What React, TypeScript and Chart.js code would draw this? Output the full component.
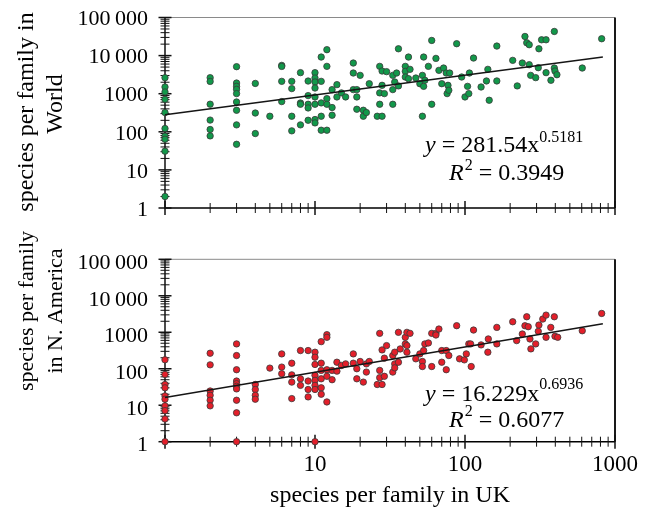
import React, { useEffect, useRef } from 'react';
import { Chart, registerables } from 'chart.js';

Chart.register(...registerables);

const FONT = "'Liberation Serif', 'Times New Roman', serif";

// ---- Data: species per family in UK (x) vs World (y) ----
const worldX = [
  1, 1, 1, 1, 1, 1, 1, 1, 1, 1,
  2, 2, 2, 2, 2, 2,
  3, 3, 3, 3, 3, 3, 3, 3, 3,
  4, 4, 4, 5,
  6, 6, 6, 6,
  7, 7, 7, 7,
  8, 8, 8, 8,
  9, 9, 9, 9, 9,
  10, 10, 10, 10, 10, 10, 10, 10,
  11, 11, 11, 11, 11,
  12, 12, 12, 12, 12,
  13, 13, 13, 14, 14, 15, 16,
  18, 18, 18, 19, 19, 19, 20, 21, 21, 22, 23, 26,
  27, 27, 27, 28, 28, 28, 29, 30,
  33, 33, 33, 34, 35, 36, 36,
  40, 40, 40, 42, 42, 43, 47, 50, 52, 52, 53, 53, 54, 57, 60, 60,
  64, 67, 70, 72, 75, 76, 77, 78, 79, 88, 95, 100, 104, 106, 107,
  114, 128, 139, 142, 145, 163, 163, 208, 223, 241, 251, 258, 268, 268,
  274, 296, 308, 311, 324, 347, 347, 374, 394, 394, 398, 410, 605, 815,
];
const worldY = [
  2630, 1500, 1110, 713, 320, 122, 77, 64, 31, 2,
  2630, 2100, 530, 203, 115, 78,
  5120, 1905, 1563, 1303, 1006, 607, 367, 152, 47,
  1860, 311, 90, 256,
  5540, 5200, 2110, 621,
  2110, 1360, 256, 106,
  3570, 571, 528, 152,
  2150, 892, 528, 423, 201,
  3570, 2580, 2030, 1410, 820, 528, 210, 171,
  9160, 2110, 573, 256, 110,
  14300, 5220, 743, 528, 110,
  1280, 433, 272, 1730, 822, 1050, 822,
  6380, 3490, 1280, 1280, 822, 391, 3030, 368, 256, 320, 1830, 256,
  5220, 1050, 528, 3940, 1660, 256, 1005, 3790,
  3030, 1280, 528, 2030, 3490, 15100, 1600,
  5220, 3860, 2740, 9160, 2480, 4360, 2580, 1830, 3030, 256, 9160, 1560, 2250, 5220, 25000, 528,
  8450, 4100, 1830, 4720, 3490, 1005, 1660, 1230, 3490, 20500, 2740, 822, 1560, 1005, 3490,
  8630, 1500, 2160, 4360, 673, 17800, 2160, 7500, 1600, 6380, 31800, 21700, 19300, 5770,
  3030, 2640, 4820, 15100, 26000, 26000, 3570, 2250, 43000, 4720, 3940, 3150, 4720, 27700,
];

// ---- Data: species per family in UK (x) vs N. America (y) ----
const americaX = [
  1, 1, 1, 1, 1, 1, 1, 1, 1, 1,
  2, 2, 2, 2, 2, 2,
  3, 3, 3, 3, 3, 3, 3, 3, 3, 3,
  4, 4, 4, 4, 5,
  6, 6, 6,
  7, 7, 7, 7,
  8, 8, 8,
  9, 9, 9, 9,
  10, 10, 10, 10, 10, 10, 10, 10,
  11, 11, 11, 11, 11, 11,
  12, 12, 12, 12, 12,
  13, 13, 14, 14, 15, 16, 18, 18, 19, 19, 20, 21, 22, 22, 23, 26,
  27, 27, 27, 28, 28, 29, 29, 30, 33, 33, 34, 34, 34, 36, 36, 37,
  40, 40, 41, 41, 41, 43, 47, 50, 52, 52, 53, 54, 57, 60, 60, 64, 64, 67,
  70, 70, 75, 75, 78, 88, 92, 99, 102, 106, 109, 110, 114, 128, 142, 143,
  163, 163, 208, 221, 241, 251, 258, 264, 271, 275, 296, 308, 311, 330,
  347, 347, 373, 394, 398, 415, 605, 815,
];
const americaY = [
  176, 70, 37, 30, 18, 14.6, 9.6, 7.1, 4.2, 1,
  266, 128, 24.5, 18.7, 13.7, 9.6,
  479, 230, 94, 46, 39, 33, 28, 13.7, 6.2, 1,
  37, 27, 18.7, 14.6, 104,
  255, 111, 73,
  142, 68, 43, 15.2,
  315, 53, 35,
  315, 46, 27, 16.9,
  284, 207, 131, 66, 48, 35, 27, 1,
  553, 142, 90, 53, 30, 20,
  859, 726, 94, 62, 12.3,
  90, 50, 151, 86, 123, 136, 255, 142, 100, 53, 158, 43, 136, 81, 158, 37,
  933, 90, 57, 328, 37, 195, 62, 431, 230, 81, 284, 136, 106, 995, 151, 349,
  726, 479, 995, 431, 284, 933, 187, 255, 158, 115, 315, 479, 509, 933, 115, 933, 841, 1224,
  315, 151, 315, 94, 230, 1514, 187, 175, 255, 479, 479, 115, 1150, 450, 284, 655,
  1360, 479, 1940, 590, 896, 1510, 2660, 1420, 655, 350, 479, 1060, 1575, 2300,
  2950, 727, 1360, 2660, 774, 727, 1100, 3280,
];

// ---- Power-law trend lines (end points) ----
const worldTrendX = [1, 830];
const worldTrendY = [281.54, 9150];
const americaTrendX = [1, 830];
const americaTrendY = [16.229, 1717];

// ---- Ticks ----
const yTickValues = [1, 10, 100, 1000, 10000, 100000];
const yTickLabels = ['1', '10', '100', '1000', '10\u2009000', '100\u2009000'];
const xTickValues = [1, 10, 100, 1000];
const xTickLabels = ['', '10', '100', '1000'];

type PanelCfg = {
  top: number;
  height: number;
  padTop: number;
  axisH: number;
  labelOffset: number;
  xs: number[];
  ys: number[];
  tx: number[];
  ty: number[];
  fill: string;
  showXLabels: boolean;
  titleSize: number;
  titleLines: string[];
  titleBaselines: number[];
  titleCenters: number[];
  eqBase: number;
  eqSup: number;
  coef: string;
  expo: string;
  rBase: number;
  rSup: number;
  r2: string;
  xTitle?: { text: string; x: number; base: number };
};

function makeDecor(cfg: PanelCfg) {
  return {
    id: 'decor',
    beforeDatasetsDraw(chart: any) {
      const { ctx, chartArea: a, scales } = chart;
      const xs = scales.x;
      const ys = scales.y;
      ctx.save();
      // frame top (thin) and right (dark)
      ctx.strokeStyle = '#8a8a8a';
      ctx.lineWidth = 1;
      ctx.beginPath();
      ctx.moveTo(a.left, a.top);
      ctx.lineTo(a.right, a.top);
      ctx.stroke();
      ctx.strokeStyle = '#1a1a1a';
      ctx.lineWidth = 2;
      ctx.beginPath();
      ctx.moveTo(a.right, a.top);
      ctx.lineTo(a.right, a.bottom);
      ctx.stroke();
      // axes
      ctx.strokeStyle = '#000';
      ctx.lineWidth = 1.4;
      ctx.beginPath();
      ctx.moveTo(a.left, a.top);
      ctx.lineTo(a.left, a.bottom);
      ctx.lineTo(a.right, a.bottom);
      ctx.stroke();
      // tick marks
      ctx.strokeStyle = '#111';
      for (let e = 0; e <= 5; e++) {
        for (let m = 1; m <= 9; m++) {
          const v = m * Math.pow(10, e);
          const major = m === 1;
          if (v >= ys.min && v <= ys.max) {
            const p = ys.getPixelForValue(v);
            ctx.lineWidth = major ? 1.5 : 1;
            const l = major ? 6.5 : 4.5;
            ctx.beginPath();
            ctx.moveTo(a.left - l, p);
            ctx.lineTo(a.left + l, p);
            ctx.stroke();
          }
          if (v >= xs.min && v <= xs.max) {
            const p = xs.getPixelForValue(v);
            ctx.lineWidth = major ? 1.5 : 1;
            const l = major ? 7 : 5;
            ctx.beginPath();
            ctx.moveTo(p, a.bottom - l);
            ctx.lineTo(p, a.bottom + l);
            ctx.stroke();
          }
        }
      }
      ctx.restore();
    },
    afterDraw(chart: any) {
      const { ctx } = chart;
      ctx.save();
      ctx.fillStyle = '#000';
      // y-axis title
      ctx.font = `${cfg.titleSize}px ${FONT}`;
      ctx.textAlign = 'center';
      ctx.textBaseline = 'alphabetic';
      cfg.titleLines.forEach((line, i) => {
        ctx.save();
        ctx.translate(cfg.titleBaselines[i], cfg.titleCenters[i]);
        ctx.rotate(-Math.PI / 2);
        ctx.fillText(line, 0, 0);
        ctx.restore();
      });
      // equation
      ctx.textAlign = 'left';
      let x = 425;
      ctx.font = `italic 24px ${FONT}`;
      ctx.fillText('y', x, cfg.eqBase);
      x += ctx.measureText('y').width;
      ctx.font = `24px ${FONT}`;
      const mid = ` = ${cfg.coef}x`;
      ctx.fillText(mid, x, cfg.eqBase);
      x += ctx.measureText(mid).width;
      ctx.font = `16px ${FONT}`;
      ctx.fillText(cfg.expo, x, cfg.eqSup);
      // R^2
      x = 449;
      ctx.font = `italic 24px ${FONT}`;
      ctx.fillText('R', x, cfg.rBase);
      x += ctx.measureText('R').width + 1;
      ctx.font = `16px ${FONT}`;
      ctx.fillText('2', x, cfg.rSup);
      x += ctx.measureText('2').width;
      ctx.font = `24px ${FONT}`;
      ctx.fillText(` = ${cfg.r2}`, x, cfg.rBase);
      // x-axis title
      if (cfg.xTitle) {
        ctx.textAlign = 'center';
        ctx.fillText(cfg.xTitle.text, cfg.xTitle.x, cfg.xTitle.base);
      }
      ctx.restore();
    },
  };
}

function Panel({ cfg }: { cfg: PanelCfg }) {
  const ref = useRef<HTMLCanvasElement>(null);
  useEffect(() => {
    if (!ref.current) return;
    const chart = new Chart(ref.current, {
      type: 'scatter',
      data: {
        datasets: [
          {
            data: cfg.tx.map((x, i) => ({ x, y: cfg.ty[i] })),
            showLine: true,
            borderColor: '#151515',
            borderWidth: 1.5,
            pointRadius: 0,
            pointHoverRadius: 0,
            clip: false,
            order: 0,
          } as any,
          {
            data: cfg.xs.map((x, i) => ({ x, y: cfg.ys[i] })),
            showLine: false,
            backgroundColor: cfg.fill,
            borderColor: '#3a3a3a',
            borderWidth: 0.8,
            pointRadius: 3.2,
            pointHoverRadius: 3.2,
            clip: false,
            order: 1,
          } as any,
        ],
      },
      options: {
        animation: false,
        responsive: false,
        maintainAspectRatio: false,
        events: [],
        layout: { padding: { left: 0, right: 38, top: cfg.padTop, bottom: 0 } },
        plugins: { legend: { display: false }, tooltip: { enabled: false } },
        scales: {
          x: {
            type: 'logarithmic',
            position: 'bottom',
            min: 1,
            max: 1000,
            grid: { display: false, drawTicks: false },
            border: { display: false },
            ticks: {
              display: cfg.showXLabels,
              autoSkip: false,
              maxRotation: 0,
              padding: 9,
              color: '#000',
              font: { family: FONT, size: 23 },
              callback: (_v: any, i: number) => xTickLabels[i],
            },
            afterBuildTicks: (s: any) => {
              s.ticks = xTickValues.map((v) => ({ value: v }));
            },
            afterFit: (s: any) => {
              s.height = cfg.axisH;
              s.paddingLeft = 0;
              s.paddingRight = 0;
              s.paddingTop = 0;
              s.paddingBottom = 0;
            },
          },
          y: {
            type: 'logarithmic',
            position: 'left',
            min: 1,
            max: 100000,
            grid: { display: false, drawTicks: false },
            border: { display: false },
            ticks: {
              autoSkip: false,
              padding: 17,
              labelOffset: cfg.labelOffset,
              color: '#000',
              font: { family: FONT, size: 22 },
              callback: (_v: any, i: number) => yTickLabels[i],
            },
            afterBuildTicks: (s: any) => {
              s.ticks = yTickValues.map((v) => ({ value: v }));
            },
            afterFit: (s: any) => {
              s.width = 165;
              s.paddingLeft = 0;
              s.paddingRight = 0;
              s.paddingTop = 0;
              s.paddingBottom = 0;
            },
          },
        } as any,
      },
      plugins: [makeDecor(cfg)],
    });
    return () => chart.destroy();
  }, []);
  return (
    <canvas
      ref={ref}
      width={653}
      height={cfg.height}
      style={{ position: 'absolute', left: 0, top: cfg.top, width: 653, height: cfg.height }}
    />
  );
}

const worldCfg: PanelCfg = {
  top: 0,
  height: 224,
  padTop: 17.5,
  axisH: 16,
  labelOffset: 2,
  xs: worldX,
  ys: worldY,
  tx: worldTrendX,
  ty: worldTrendY,
  fill: '#12984a',
  showXLabels: false,
  titleSize: 24,
  titleLines: ['species per family in', 'World'],
  titleBaselines: [33, 62],
  titleCenters: [112, 104],
  eqBase: 151.7,
  eqSup: 141.7,
  coef: '281.54',
  expo: '0.5181',
  rBase: 180,
  rSup: 170,
  r2: '0.3949',
};

const americaCfg: PanelCfg = {
  top: 224,
  height: 284,
  padTop: 35.3,
  axisH: 66.3,
  labelOffset: 4,
  xs: americaX,
  ys: americaY,
  tx: americaTrendX,
  ty: americaTrendY,
  fill: '#e31f2a',
  showXLabels: true,
  titleSize: 22,
  titleLines: ['species per family', 'in N. America'],
  titleBaselines: [33, 62],
  titleCenters: [87, 87],
  eqBase: 176.7,
  eqSup: 165.3,
  coef: '16.229',
  expo: '0.6936',
  rBase: 202.7,
  rSup: 192,
  r2: '0.6077',
  xTitle: { text: 'species per family in UK', x: 390, base: 277.7 },
};

export default function App() {
  return (
    <div style={{ position: 'fixed', left: 0, top: 0, width: 653, height: 508, background: '#fff' }}>
      <Panel cfg={worldCfg} />
      <Panel cfg={americaCfg} />
    </div>
  );
}
